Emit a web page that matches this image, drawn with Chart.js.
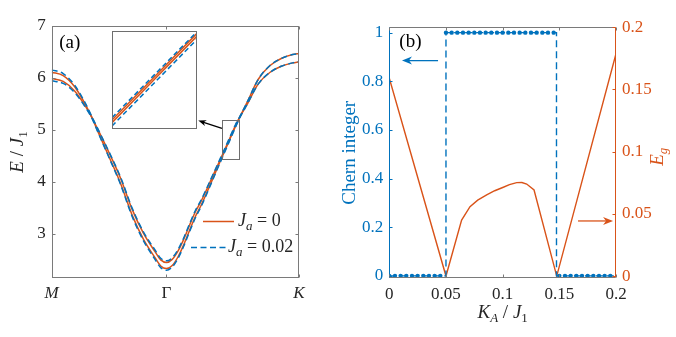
<!DOCTYPE html>
<html>
<head>
<meta charset="utf-8">
<script src="https://cdn.jsdelivr.net/npm/chart.js@4.4.0/dist/chart.umd.min.js"></script>
<style>
  html, body { margin: 0; padding: 0; background: #fff; }
  #wrap { position: relative; width: 676px; height: 337px; overflow: hidden; background: #fff; }
  #wrap canvas { position: absolute; }
</style>
</head>
<body>
<div id="wrap">
  <canvas id="bands" width="676" height="337" style="left:0;top:0;width:676px;height:337px"></canvas>
  <canvas id="chern" width="676" height="337" style="left:0;top:0;width:676px;height:337px"></canvas>
  <canvas id="zoom" width="85" height="98" style="left:112px;top:31px;width:85px;height:98px;background:#fff"></canvas>
</div>
<script>
// ---------- (a) magnon bands along M - Γ - K (Γ at 1, K at 1 + |ΓK|/|ΓM|) ----------
const pathK = [0, 0.1, 0.2, 0.3, 0.35, 0.4, 0.5, 0.6, 0.7, 0.8, 0.9, 0.95, 1.0,
  1.05, 1.1, 1.15, 1.2, 1.25, 1.3, 1.35, 1.4, 1.45, 1.5, 1.55, 1.6, 1.64, 1.7, 1.8, 1.9, 2.0, 2.1, 2.1547];
const pathTickValues = [0, 1, 2.1547];
const pathTickLabels = ['M', 'Γ', 'K'];
const pathTickItalic = [true, false, true];
const energyTicks = [3, 4, 5, 6, 7];

// J_a = 0
const upperJa0 = [6.11, 6.045, 5.83, 5.465, 5.24, 5.02, 4.56, 4.07, 3.475, 3.007, 2.658, 2.498, 2.448,
  2.508, 2.666, 2.893, 3.16, 3.415, 3.62, 3.854, 4.097, 4.34, 4.583, 4.831, 5.08, 5.25, 5.52, 5.975, 6.235, 6.375, 6.45, 6.47];
const lowerJa0 = [5.99, 5.935, 5.75, 5.435, 5.24, 4.98, 4.48, 3.97, 3.365, 2.893, 2.542, 2.382, 2.332,
  2.392, 2.554, 2.787, 3.06, 3.325, 3.54, 3.786, 4.043, 4.30, 4.557, 4.809, 5.06, 5.25, 5.48, 5.885, 6.105, 6.225, 6.29, 6.31];
// J_a = 0.02
const upperJa002 = [6.155, 6.085, 5.86, 5.485, 5.255, 5.03, 4.575, 4.09, 3.50, 3.035, 2.69, 2.53, 2.48,
  2.538, 2.695, 2.92, 3.185, 3.44, 3.643, 3.875, 4.118, 4.36, 4.603, 4.85, 5.095, 5.26, 5.52, 5.975, 6.235, 6.375, 6.45, 6.47];
const lowerJa002 = [5.945, 5.895, 5.72, 5.415, 5.225, 4.97, 4.465, 3.95, 3.34, 2.865, 2.51, 2.35, 2.30,
  2.362, 2.525, 2.76, 3.035, 3.30, 3.517, 3.765, 4.022, 4.28, 4.537, 4.79, 5.045, 5.24, 5.48, 5.885, 6.105, 6.225, 6.29, 6.31];

// magnified window on the Γ-K branch
const zoomK = [1.4836, 1.5557, 1.6277];
const zoomUpperJa0 = [4.504, 4.838, 5.172];
const zoomLowerJa0 = [4.484, 4.818, 5.151];
const zoomUpperJa002 = [4.522, 4.854, 5.185];
const zoomLowerJa002 = [4.458, 4.792, 5.126];
const zoomKRange = [1.4836, 1.6277];
const zoomERange = [4.435, 5.19];

// ---------- (b) Chern number and gap versus K_A ----------
const kaTicks = [0, 0.05, 0.1, 0.15, 0.2];
const kaTickLabels = ['0', '0.05', '0.1', '0.15', '0.2'];
const chernTicks = [0, 0.2, 0.4, 0.6, 0.8, 1];
const chernTickLabels = ['0', '0.2', '0.4', '0.6', '0.8', '1'];
const gapTicks = [0, 0.05, 0.1, 0.15, 0.2];
const gapTickLabels = ['0', '0.05', '0.1', '0.15', '0.2'];

const chernKA = [0, 0.005, 0.01, 0.015, 0.02, 0.025, 0.03, 0.035, 0.04, 0.045,
  0.05, 0.055, 0.06, 0.065, 0.07, 0.075, 0.08, 0.085, 0.09, 0.095,
  0.1, 0.105, 0.11, 0.115, 0.12, 0.125, 0.13, 0.135, 0.14, 0.145,
  0.15, 0.155, 0.16, 0.165, 0.17, 0.175, 0.18, 0.185, 0.19, 0.195];
const chernNumber = [0, 0, 0, 0, 0, 0, 0, 0, 0, 0,
  1, 1, 1, 1, 1, 1, 1, 1, 1, 1,
  1, 1, 1, 1, 1, 1, 1, 1, 1, 1,
  0, 0, 0, 0, 0, 0, 0, 0, 0, 0];
// phase boundaries of the Chern number
const chernStepKA = [0, 0.05, 0.05, 0.1475, 0.1475, 0.2];
const chernStepValue = [0, 0, 1, 1, 0, 0];

const gapKA = [0, 0.05, 0.0638, 0.0712, 0.078, 0.0859, 0.093, 0.1006, 0.106, 0.1124, 0.117, 0.1212, 0.1277, 0.1477, 0.2];
const gapEg = [0.159, 0, 0.045, 0.0558, 0.061, 0.0652, 0.0686, 0.0714, 0.0735, 0.0751, 0.0752, 0.074, 0.0692, 0, 0.1787];

// ---------- styling ----------
const BLUE = '#0072BD';
const ORANGE = '#D95319';
const INK = '#262626';
const FRAME = '#7a7a7a';
const SERIF = "'Liberation Serif', 'DejaVu Serif', serif";
const TICK_FONT = { family: SERIF, size: 17 };

const pts = (xs, ys) => xs.map((x, i) => ({ x, y: ys[i] }));
const setTicks = values => scale => { scale.ticks = values.map(v => ({ value: v })); };

// text made of pieces: [string, style] with style 'i' italic, 's' subscript, 'si' italic subscript
function mathText(ctx, parts, x, y, o) {
  const size = o.size || 19;
  const font = st => `${st.includes('i') ? 'italic ' : ''}${st.includes('s') ? Math.round(size * 0.7) : size}px ${SERIF}`;
  ctx.save();
  ctx.translate(x, y);
  if (o.rot) ctx.rotate(o.rot);
  let w = 0;
  parts.forEach(([t, st]) => { ctx.font = font(st); w += ctx.measureText(t).width; });
  let cx = o.align === 'center' ? -w / 2 : (o.align === 'right' ? -w : 0);
  ctx.fillStyle = o.color || INK;
  ctx.textBaseline = 'middle';
  parts.forEach(([t, st]) => {
    ctx.font = font(st);
    ctx.fillText(t, cx, st.includes('s') ? size * 0.3 : 0);
    cx += ctx.measureText(t).width;
  });
  ctx.restore();
}

function arrow(ctx, x0, y0, x1, y1, color, head, half) {
  const a = Math.atan2(y1 - y0, x1 - x0), c = Math.cos(a), s = Math.sin(a);
  ctx.save();
  ctx.strokeStyle = color; ctx.fillStyle = color; ctx.lineWidth = 1.3;
  ctx.beginPath(); ctx.moveTo(x0, y0); ctx.lineTo(x1 - head * 0.6 * c, y1 - head * 0.6 * s); ctx.stroke();
  ctx.beginPath();
  ctx.moveTo(x1, y1);
  ctx.lineTo(x1 - head * c + half * s, y1 - head * s - half * c);
  ctx.lineTo(x1 - head * 0.7 * c, y1 - head * 0.7 * s);
  ctx.lineTo(x1 - head * c - half * s, y1 - head * s + half * c);
  ctx.closePath(); ctx.fill();
  ctx.restore();
}

// inward tick marks on one side of the plot box
function innerTicks(ctx, scale, side, area, color, len) {
  ctx.save();
  ctx.strokeStyle = color; ctx.lineWidth = 1;
  ctx.beginPath();
  scale.ticks.forEach(t => {
    const p = Math.round(scale.getPixelForValue(t.value)) + 0.5;
    if (side === 'bottom') { ctx.moveTo(p, area.bottom); ctx.lineTo(p, area.bottom - len); }
    if (side === 'top') { ctx.moveTo(p, area.top); ctx.lineTo(p, area.top + len); }
    if (side === 'left') { ctx.moveTo(area.left, p); ctx.lineTo(area.left + len, p); }
    if (side === 'right') { ctx.moveTo(area.right, p); ctx.lineTo(area.right - len, p); }
  });
  ctx.stroke();
  ctx.restore();
}

function edge(ctx, x0, y0, x1, y1, color) {
  ctx.save();
  ctx.strokeStyle = color; ctx.lineWidth = 1;
  ctx.beginPath(); ctx.moveTo(x0, y0); ctx.lineTo(x1, y1); ctx.stroke();
  ctx.restore();
}

const common = {
  responsive: false,
  animation: false,
  events: [],
  devicePixelRatio: 1,
  plugins: { legend: { display: false }, tooltip: { enabled: false } }
};

// ---------- (a) ----------
new Chart(document.getElementById('bands'), {
  type: 'line',
  data: {
    datasets: [
      { data: pts(pathK, upperJa002), borderColor: BLUE, borderDash: [6, 3.5] },
      { data: pts(pathK, lowerJa002), borderColor: BLUE, borderDash: [6, 3.5] },
      { data: pts(pathK, upperJa0), borderColor: ORANGE },
      { data: pts(pathK, lowerJa0), borderColor: ORANGE }
    ]
  },
  options: {
    ...common,
    layout: { padding: { left: 11.7, right: 377, top: 26, bottom: 29 } },
    elements: {
      point: { radius: 0 },
      line: { borderWidth: 1.5, cubicInterpolationMode: 'monotone', fill: false }
    },
    scales: {
      x: {
        type: 'linear', min: 0, max: 2.1547,
        afterBuildTicks: setTicks(pathTickValues),
        afterFit: s => { s.height = 30; },
        grid: { display: false, drawTicks: false }, border: { display: false },
        ticks: {
          padding: 5, color: INK, autoSkip: false, maxRotation: 0,
          callback: (v, i) => pathTickLabels[i],
          font: c => ({ family: SERIF, size: 17, style: pathTickItalic[c.index] ? 'italic' : 'normal' })
        }
      },
      y: {
        type: 'linear', min: 2.15, max: 7,
        afterBuildTicks: setTicks(energyTicks),
        afterFit: s => { s.width = 40; },
        grid: { display: false, drawTicks: false }, border: { display: false },
        ticks: { padding: 6, color: INK, font: TICK_FONT, callback: v => String(v) }
      }
    }
  },
  plugins: [{
    id: 'bandsDecor',
    afterDatasetsDraw(chart) {
      const { ctx, chartArea: a, scales: { x, y } } = chart;
      const L = Math.round(a.left) + 0.5, R = Math.round(a.right) - 0.5;
      const T = Math.round(a.top) + 0.5, B = Math.round(a.bottom) - 0.5;
      const box = { left: L, right: R, top: T, bottom: B };
      ctx.save();
      ctx.strokeStyle = FRAME; ctx.lineWidth = 1;
      ctx.strokeRect(L, T, R - L, B - T);
      ctx.restore();
      innerTicks(ctx, x, 'bottom', box, FRAME, 3);
      innerTicks(ctx, x, 'top', box, FRAME, 3);
      innerTicks(ctx, y, 'left', box, FRAME, 3);
      innerTicks(ctx, y, 'right', box, FRAME, 3);

      // window that is magnified in the inset
      const rx0 = Math.round(x.getPixelForValue(zoomKRange[0])) + 0.5;
      const rx1 = Math.round(x.getPixelForValue(zoomKRange[1])) + 0.5;
      const ry0 = Math.round(y.getPixelForValue(zoomERange[1])) + 0.5;
      const ry1 = Math.round(y.getPixelForValue(zoomERange[0])) + 0.5;
      ctx.save();
      ctx.strokeStyle = '#6e6e6e'; ctx.lineWidth = 1;
      ctx.strokeRect(rx0, ry0, rx1 - rx0, ry1 - ry0);
      ctx.restore();
      arrow(ctx, x.getPixelForValue(1.4836), y.getPixelForValue(5.03),
        x.getPixelForValue(1.277), y.getPixelForValue(5.18), '#000', 8, 3);

      // axis title and panel tag
      mathText(ctx, [['E', 'i'], [' / ', ''], ['J', 'i'], ['1', 's']], a.left - 34, (a.top + a.bottom) / 2,
        { rot: -Math.PI / 2, align: 'center', size: 19 });
      mathText(ctx, [['(a)', '']], a.left + 7.5, a.top + 17, { size: 19, color: '#000' });

      // legend
      ctx.save();
      ctx.lineWidth = 1.5;
      ctx.strokeStyle = ORANGE;
      ctx.beginPath(); ctx.moveTo(203, 221.5); ctx.lineTo(234, 221.5); ctx.stroke();
      ctx.strokeStyle = BLUE; ctx.setLineDash([6, 3.5]);
      ctx.beginPath(); ctx.moveTo(191, 247.5); ctx.lineTo(227, 247.5); ctx.stroke();
      ctx.restore();
      mathText(ctx, [['J', 'i'], ['a', 'si'], [' = 0', '']], 238, 221, { size: 18 });
      mathText(ctx, [['J', 'i'], ['a', 'si'], [' = 0.02', '']], 228, 247, { size: 18 });
    }
  }]
});

// ---------- inset ----------
new Chart(document.getElementById('zoom'), {
  type: 'line',
  data: {
    datasets: [
      { data: pts(zoomK, zoomUpperJa002), borderColor: BLUE, borderDash: [5, 3] },
      { data: pts(zoomK, zoomLowerJa002), borderColor: BLUE, borderDash: [5, 3] },
      { data: pts(zoomK, zoomUpperJa0), borderColor: ORANGE },
      { data: pts(zoomK, zoomLowerJa0), borderColor: ORANGE }
    ]
  },
  options: {
    ...common,
    layout: { padding: 0 },
    elements: { point: { radius: 0 }, line: { borderWidth: 1.5, tension: 0 } },
    scales: {
      x: { type: 'linear', display: false, min: zoomKRange[0], max: zoomKRange[1] },
      y: { type: 'linear', display: false, min: zoomERange[0], max: zoomERange[1] }
    }
  },
  plugins: [{
    id: 'zoomFrame',
    afterDatasetsDraw(chart) {
      const { ctx, width, height } = chart;
      ctx.save();
      ctx.strokeStyle = '#6e6e6e'; ctx.lineWidth = 1;
      ctx.strokeRect(0.5, 0.5, width - 1, height - 1);
      ctx.restore();
    }
  }]
});

// ---------- (b) ----------
new Chart(document.getElementById('chern'), {
  type: 'line',
  data: {
    datasets: [
      { data: pts(chernKA, chernNumber), yAxisID: 'y', showLine: false,
        pointRadius: 2.2, pointBackgroundColor: BLUE, pointBorderWidth: 0 },
      { data: pts(chernStepKA, chernStepValue), yAxisID: 'y', borderColor: BLUE,
        borderDash: [7, 4], borderWidth: 1.4, pointRadius: 0 },
      { data: pts(gapKA, gapEg), yAxisID: 'yR', borderColor: ORANGE, borderWidth: 1.4, pointRadius: 0 }
    ]
  },
  options: {
    ...common,
    layout: { padding: { left: 349.3, right: 20, top: 27.3, bottom: 28.7 } },
    elements: { line: { tension: 0, fill: false } },
    scales: {
      x: {
        type: 'linear', min: 0, max: 0.2,
        afterBuildTicks: setTicks(kaTicks),
        afterFit: s => { s.height = 30; },
        grid: { display: false, drawTicks: false }, border: { display: false },
        ticks: { padding: 6, color: INK, font: TICK_FONT, autoSkip: false, maxRotation: 0,
          callback: (v, i) => kaTickLabels[i] }
      },
      y: {
        type: 'linear', position: 'left', min: -0.01, max: 1.022,
        afterBuildTicks: setTicks(chernTicks),
        afterFit: s => { s.width = 40; },
        grid: { display: false, drawTicks: false }, border: { display: false },
        ticks: { padding: 6, color: BLUE, font: TICK_FONT, callback: (v, i) => chernTickLabels[i] }
      },
      yR: {
        type: 'linear', position: 'right', min: -0.0018, max: 0.2,
        afterBuildTicks: setTicks(gapTicks),
        afterFit: s => { s.width = 40; },
        grid: { display: false, drawTicks: false }, border: { display: false },
        ticks: { padding: 6, color: ORANGE, font: TICK_FONT, callback: (v, i) => gapTickLabels[i] }
      }
    }
  },
  plugins: [{
    id: 'chernDecor',
    afterDatasetsDraw(chart) {
      const { ctx, chartArea: a, scales: { x, y, yR } } = chart;
      const L = Math.round(a.left) + 0.5, R = Math.round(a.right) - 0.5;
      const T = Math.round(a.top) + 0.5, B = Math.round(a.bottom) - 0.5;
      const box = { left: L, right: R, top: T, bottom: B };
      edge(ctx, L, T, R, T, FRAME);
      edge(ctx, L, B, R, B, FRAME);
      edge(ctx, L, T, L, B, BLUE);
      edge(ctx, R, T, R, B, ORANGE);
      innerTicks(ctx, x, 'bottom', box, FRAME, 3);
      innerTicks(ctx, x, 'top', box, FRAME, 3);
      innerTicks(ctx, y, 'left', box, BLUE, 3);
      innerTicks(ctx, yR, 'right', box, ORANGE, 3);

      arrow(ctx, x.getPixelForValue(0.043), y.getPixelForValue(0.885),
        x.getPixelForValue(0.0112), y.getPixelForValue(0.885), BLUE, 10, 4);
      arrow(ctx, x.getPixelForValue(0.1665), yR.getPixelForValue(0.0443),
        x.getPixelForValue(0.1974), yR.getPixelForValue(0.0443), ORANGE, 10, 4);

      mathText(ctx, [['(b)', '']], a.left + 10, a.top + 15, { size: 19, color: '#000' });
      mathText(ctx, [['K', 'i'], ['A', 'si'], [' / ', ''], ['J', 'i'], ['1', 's']],
        (a.left + a.right) / 2, a.bottom + 35, { align: 'center', size: 19 });
      mathText(ctx, [['Chern integer', '']], a.left - 39, (a.top + a.bottom) / 2,
        { rot: -Math.PI / 2, align: 'center', size: 19, color: BLUE });
      mathText(ctx, [['E', 'i'], ['g', 'si']], a.right + 42, (a.top + a.bottom) / 2 + 4,
        { rot: -Math.PI / 2, align: 'center', size: 19, color: ORANGE });
    }
  }]
});
</script>
</body>
</html>
